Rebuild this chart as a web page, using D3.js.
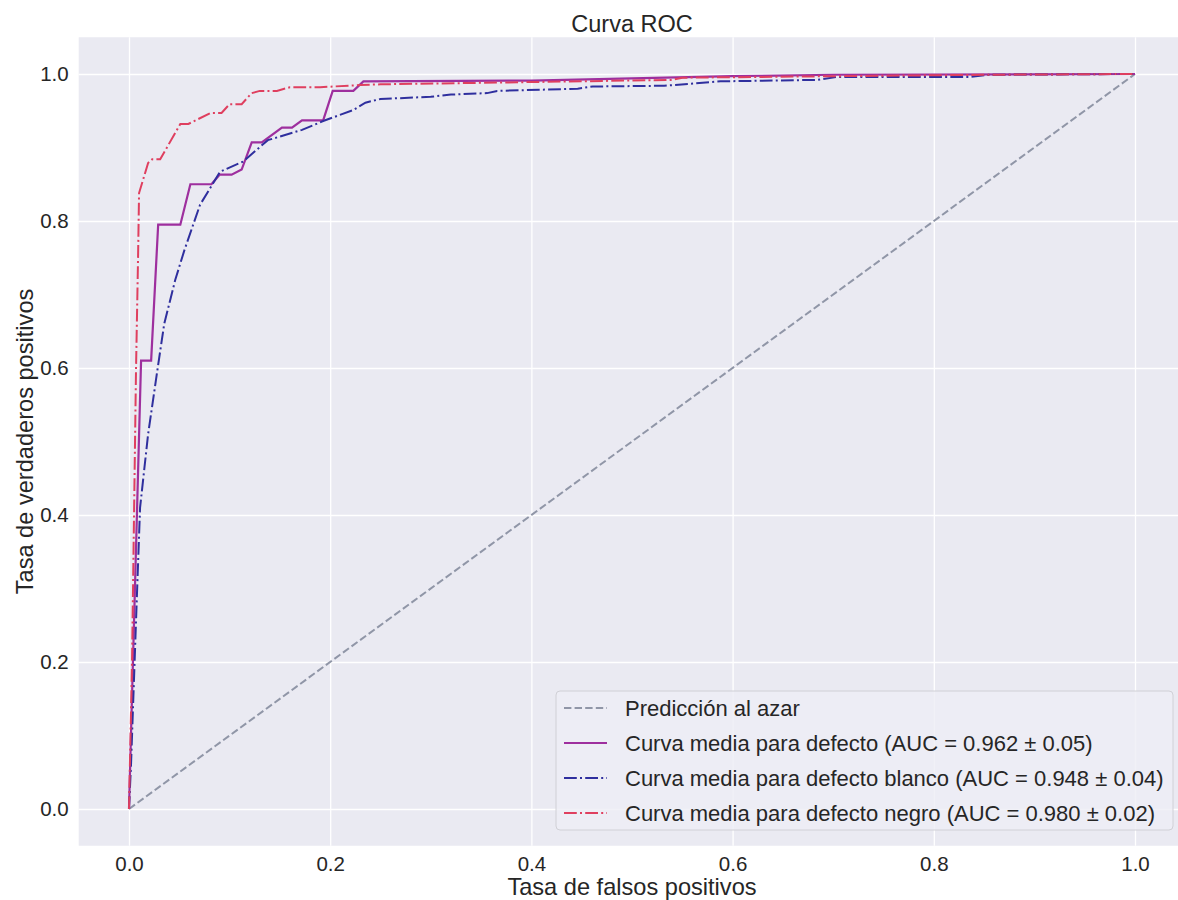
<!DOCTYPE html>
<html>
<head>
<meta charset="utf-8">
<script src="https://d3js.org/d3.v7.min.js"></script>
<style>
	body { margin: 0; background: #fff; }
	text { font-family: "Liberation Sans", Arial, sans-serif; fill: #262626; }
</style>
</head>
<body>
<div id="chart"></div>
<script>
// ROC curves, [false positive rate, true positive rate]
var curveDefecto = [[0,0],[0.012,0.61],[0.022,0.61],[0.029,0.795],[0.051,0.795],[0.061,0.85],[0.082,0.85],
	[0.09,0.863],[0.102,0.863],[0.112,0.87],[0.122,0.907],[0.132,0.907],[0.152,0.927],[0.162,0.927],
	[0.172,0.937],[0.193,0.937],[0.2025,0.977],[0.223,0.977],[0.233,0.99],[0.4,0.991],[0.6,0.997],
	[0.7,0.999],[1,1]];
var curveBlanco = [[0,0],[0.002,0.06],[0.0076,0.28],[0.011,0.41],[0.019,0.51],[0.028,0.595],[0.035,0.66],
	[0.046,0.72],[0.055,0.76],[0.0706,0.822],[0.0905,0.867],[0.1136,0.881],[0.138,0.91],[0.172,0.924],
	[0.193,0.936],[0.223,0.951],[0.235,0.961],[0.25,0.966],[0.3,0.969],[0.32,0.972],[0.356,0.974],
	[0.366,0.977],[0.446,0.98],[0.461,0.983],[0.532,0.984],[0.588,0.99],[0.684,0.992],[0.704,0.996],
	[0.835,0.996],[0.855,0.999],[1,1]];
var curveNegro = [[0,0],[0.003,0.2],[0.005,0.4],[0.007,0.6],[0.009,0.75],[0.01,0.838],[0.019,0.879],
	[0.023,0.884],[0.031,0.884],[0.051,0.932],[0.059,0.932],[0.081,0.947],[0.092,0.947],[0.1,0.959],
	[0.112,0.959],[0.122,0.974],[0.13,0.977],[0.147,0.977],[0.16,0.982],[0.19,0.982],[0.23,0.985],
	[0.25,0.986],[0.35,0.988],[0.54,0.992],[0.55,0.995],[0.7,0.997],[0.855,0.999],[1,1]];
var chance = [[0,0],[1,1]];

var legendLabels = ["Predicción al azar",
	"Curva media para defecto (AUC = 0.962 \u00b1 0.05)",
	"Curva media para defecto blanco (AUC = 0.948 \u00b1 0.04)",
	"Curva media para defecto negro (AUC = 0.980 \u00b1 0.02)"];
var ticks = [0, 0.2, 0.4, 0.6, 0.8, 1.0];

// series drawing order = legend order
var series = [
	{data: chance, color: "#9096a7", dash: "7.4,3.2"},
	{data: curveDefecto, color: "#9e2f9e", dash: null},
	{data: curveBlanco, color: "#2f2f9e", dash: "12.8,3.2,2,3.2"},
	{data: curveNegro, color: "#df3f5f", dash: "12.8,3.2,2,3.2"}
];

var W = 1178, H = 900;
var svg = d3.select("#chart").append("svg")
	.attr("width", W)
	.attr("height", H);

// matplotlib default margins: 5% on each side
var x = d3.scaleLinear().domain([-0.05, 1.05]).range([78.7, 1185.3]);
var y = d3.scaleLinear().domain([-0.05, 1.05]).range([845.75, 37.25]);

// plot background
svg.append("rect")
	.attr("x", x(-0.05)).attr("y", y(1.05))
	.attr("width", x(1.05) - x(-0.05))
	.attr("height", y(-0.05) - y(1.05))
	.attr("fill", "#eaeaf2");

// grid lines + tick labels through d3 axes
var xAxis = svg.append("g")
	.attr("transform", "translate(0," + y(-0.05) + ")")
	.call(d3.axisBottom(x).tickValues(ticks).tickFormat(d3.format(".1f"))
		.tickSize(-(y(-0.05) - y(1.05))).tickPadding(10));
var yAxis = svg.append("g")
	.attr("transform", "translate(" + x(-0.05) + ",0)")
	.call(d3.axisLeft(y).tickValues(ticks).tickFormat(d3.format(".1f"))
		.tickSize(-(x(1.05) - x(-0.05))).tickPadding(10));
[xAxis, yAxis].forEach(function(ax){
	ax.select(".domain").remove();
	ax.selectAll(".tick line").attr("stroke", "#fff").attr("stroke-width", 1.3);
	ax.selectAll(".tick text")
		.attr("fill", "#262626")
		.style("font-size", "20.5px")
		.style("font-family", "'Liberation Sans', Arial, sans-serif");
});
xAxis.selectAll(".tick text").attr("dy", null).attr("y", 25.5);
yAxis.selectAll(".tick text").attr("x", -10);

var line = d3.line()
	.x(function(d){ return x(d[0]); })
	.y(function(d){ return y(d[1]); });

svg.selectAll("path.curve").data(series).enter()
	.append("path")
	.attr("class", "curve")
	.attr("d", function(d){ return line(d.data); })
	.attr("fill", "none")
	.attr("stroke", function(d){ return d.color; })
	.attr("stroke-width", function(d, i){ return i == 1 ? 2.2 : 2; })
	.attr("stroke-dasharray", function(d){ return d.dash; });

// title and axis labels
svg.append("text").attr("x", 632).attr("y", 32)
	.attr("text-anchor", "middle").style("font-size", "23.5px").text("Curva ROC");
svg.append("text").attr("x", 632).attr("y", 895)
	.attr("text-anchor", "middle").style("font-size", "23.6px").text("Tasa de falsos positivos");
svg.append("text").attr("transform", "translate(33,441.5) rotate(-90)")
	.attr("text-anchor", "middle").style("font-size", "23.6px").text("Tasa de verdaderos positivos");

// legend box
var legend = svg.append("g").attr("transform", "translate(556,691)");
legend.append("rect")
	.attr("width", 617).attr("height", 139)
	.attr("rx", 4)
	.attr("fill", "#eeeef5").attr("fill-opacity", 0.8)
	.attr("stroke", "#d0d0d6");
var row = legend.selectAll("g.row").data(series).enter()
	.append("g")
	.attr("class", "row")
	.attr("transform", function(d, i){ return "translate(0," + (17 + i * 35) + ")"; });
row.append("line")
	.attr("x1", 8).attr("x2", 51)
	.attr("stroke", function(d){ return d.color; })
	.attr("stroke-width", 2)
	.attr("stroke-dasharray", function(d){ return d.dash; });
row.append("text")
	.attr("x", 69).attr("dy", "0.35em")
	.style("font-size", "22px")
	.text(function(d, i){ return legendLabels[i]; });
</script>
</body>
</html>
